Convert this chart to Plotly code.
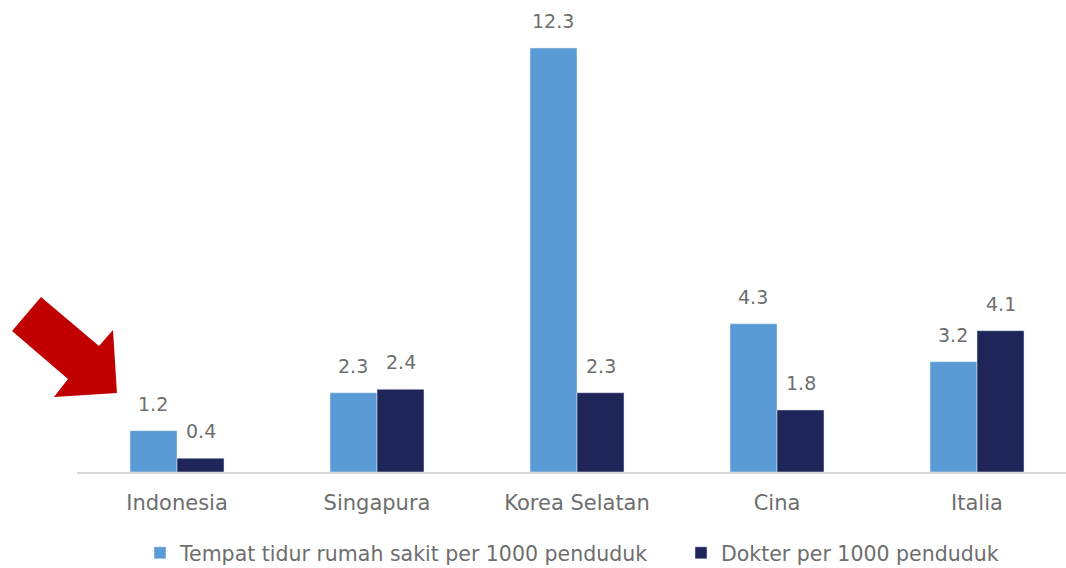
import plotly.graph_objects as go

categories = ["Indonesia", "Singapura", "Korea Selatan", "Cina", "Italia"]
beds = [1.2, 2.3, 12.3, 4.3, 3.2]
doctors = [0.4, 2.4, 2.3, 1.8, 4.1]
series_names = ["Tempat tidur rumah sakit per 1000 penduduk", "Dokter per 1000 penduduk"]

LIGHT = "#5b9bd5"
DARK = "#1e2559"
TEXT = "#6e6e6e"
FONT = "DejaVu Sans"

W, H = 1066, 568
ML, MR, MT, MB = 77, 0, 20, 96
pw = W - ML - MR
ph = H - MT - MB

fig = go.Figure()
fig.add_bar(x=categories, y=beds, name=series_names[0], marker_color=LIGHT, legend="legend")
fig.add_bar(x=categories, y=doctors, name=series_names[1], marker_color=DARK, legend="legend2")

# value labels above bars
for vals, shift in ((beds, -24), (doctors, 24)):
    for c, v in zip(categories, vals):
        fig.add_annotation(x=c, y=v, text=f"{v:.1f}", showarrow=False,
                           xshift=shift, yshift=14, yanchor="bottom",
                           font=dict(family=FONT, size=19, color=TEXT))

# red arrow (pixel geometry converted to paper coords)
arrow_px = [(12, 331), (41, 297), (99, 346), (113, 330), (117, 393), (54, 397), (68, 379)]
def to_paper(px, py):
    return (px - ML) / pw, (H - MB - py) / ph
pts = [to_paper(*p) for p in arrow_px]
path = "M " + " L ".join(f"{x:.4f},{y:.4f}" for x, y in pts) + " Z"
fig.add_shape(type="path", path=path, xref="paper", yref="paper",
              fillcolor="#c00000", line=dict(color="#c00000", width=0), layer="above")

legend_common = dict(orientation="h", xanchor="left", yanchor="middle",
                     y=(H - MB - 553) / ph, itemwidth=30, bgcolor="rgba(0,0,0,0)",
                     font=dict(family=FONT, size=20.5, color=TEXT))

fig.update_layout(
    width=W, height=H,
    margin=dict(l=ML, r=MR, t=MT, b=MB, autoexpand=False),
    paper_bgcolor="white", plot_bgcolor="white",
    barmode="group", bargap=0.53, bargroupgap=0,
    showlegend=True,
    legend=dict(x=(140 - ML) / pw, **legend_common),
    legend2=dict(x=(681 - ML) / pw, **legend_common),
    xaxis=dict(range=[-0.5, 4.445], showline=True, linecolor="#d9d9d9", linewidth=2,
               showgrid=False, ticks="", ticklabelstandoff=11,
               tickfont=dict(family=FONT, size=21, color=TEXT)),
    yaxis=dict(range=[0, ph / (424 / 12.3)], visible=False, showgrid=False, zeroline=False),
)

fig.write_html("out.html", config={"displayModeBar": False},
               post_script="document.body.style.margin='0';document.body.style.overflow='hidden';")
